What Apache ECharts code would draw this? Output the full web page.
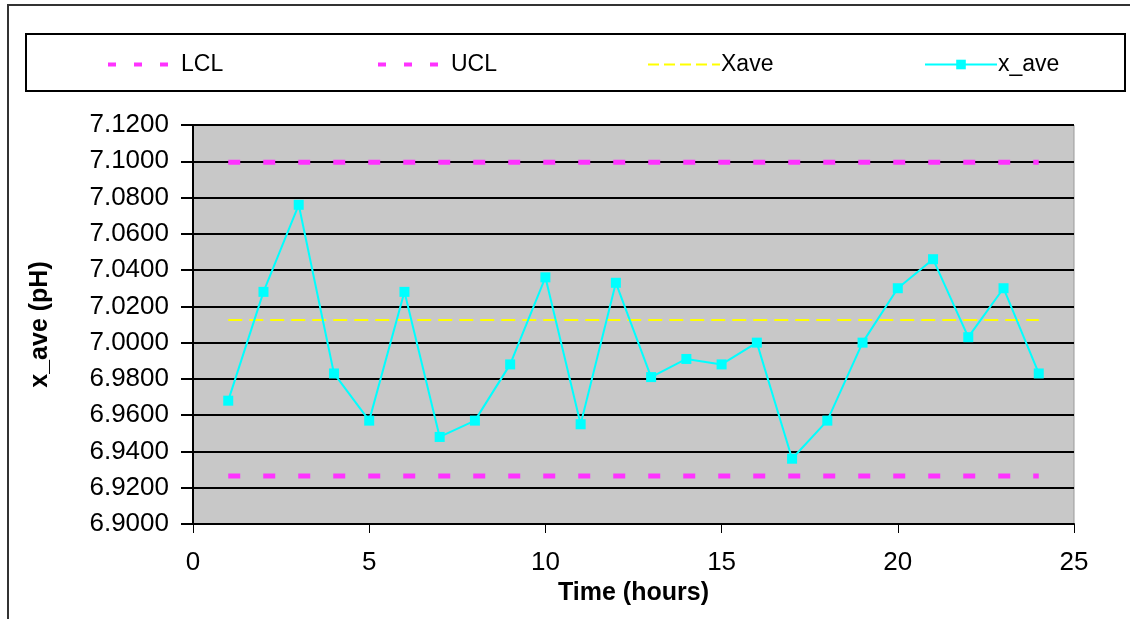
<!DOCTYPE html>
<html>
<head>
<meta charset="utf-8">
<script src="https://cdn.jsdelivr.net/npm/echarts@6/dist/echarts.min.js"></script>
<style>
html,body{margin:0;padding:0;background:#fff;}
#chart{width:1130px;height:619px;}
</style>
</head>
<body>
<div id="chart"></div>
<script>
// ---- data ----
const hours = [1,2,3,4,5,6,7,8,9,10,11,12,13,14,15,16,17,18,19,20,21,22,23,24];
const xAveValues = [6.968,7.028,7.076,6.983,6.957,7.028,6.948,6.957,6.988,7.036,6.955,7.033,
                    6.981,6.991,6.988,7.000,6.936,6.957,7.000,7.030,7.046,7.003,7.030,6.983];
const uclValue = 7.0995;
const lclValue = 6.9265;
const xaveValue = 7.0125;
const lineStartEnd = [1, 24];
const seriesNames = ['LCL', 'UCL', 'Xave', 'x_ave'];
const yMin = 6.9, yMax = 7.12, yStep = 0.02;
const xMin = 0, xMax = 25, xStep = 5;

const chart = echarts.init(document.getElementById('chart'));
const FONT = '"Liberation Sans", Arial, sans-serif';

function constLine(v){ return lineStartEnd.map(x => [x, v]); }

const legendLefts = [101, 371, 642, 919];
const legendLine = [
  {width: 4, type: [8, 18]},
  {width: 4, type: [8, 18]},
  {width: 2, type: [11, 5]},
  {width: 2, type: 'solid'}
];
const legends = seriesNames.map((n, i) => ({
  data: [n],
  left: legendLefts[i],
  top: 48,
  itemWidth: 72,
  itemHeight: 12,
  itemGap: 0,
  selectedMode: false,
  itemStyle: i < 3 ? {opacity: 0} : {},
  lineStyle: legendLine[i],
  textStyle: {fontFamily: FONT, fontSize: 23, color: '#000', padding: [0,0,0,-4]}
}));

chart.setOption({
  animation: false,
  backgroundColor: '#fff',
  textStyle: {fontFamily: FONT},
  graphic: [
    {type: 'polyline', shape: {points: [[8, 619], [8, 5], [1130, 5]]},
     style: {stroke: '#333', lineWidth: 2, fill: null}, z: 10},
    {type: 'rect', shape: {x: 26, y: 34, width: 1099, height: 57},
     style: {stroke: '#000', lineWidth: 2, fill: '#fff'}, z: -1}
  ],
  legend: legends,
  grid: {left: 193, right: 56, top: 125, bottom: 95,
         show: true, backgroundColor: '#c8c8c8', borderColor: '#9a9a9a', borderWidth: 1},
  xAxis: {
    type: 'value', min: xMin, max: xMax, interval: xStep,
    name: 'Time (hours)', nameLocation: 'middle', nameGap: 55,
    nameTextStyle: {fontFamily: FONT, fontSize: 25, fontWeight: 'bold', color: '#000'},
    axisLine: {show: true, onZero: false, lineStyle: {color: '#000', width: 2}},
    axisTick: {show: true, length: 9, lineStyle: {color: '#000', width: 1}},
    axisLabel: {fontFamily: FONT, fontSize: 26, color: '#000', margin: 26},
    splitLine: {show: false}
  },
  yAxis: {
    type: 'value', min: yMin, max: yMax, interval: yStep,
    name: 'x_ave (pH)', nameLocation: 'middle', nameGap: 140,
    nameTextStyle: {fontFamily: FONT, fontSize: 25, fontWeight: 'bold', color: '#000'},
    axisLine: {show: true, lineStyle: {color: '#000', width: 2}},
    axisTick: {show: true, length: 12, lineStyle: {color: '#000', width: 2}},
    axisLabel: {fontFamily: FONT, fontSize: 26, color: '#000', margin: 24,
                formatter: v => v.toFixed(4)},
    splitLine: {show: true, lineStyle: {color: '#000', width: 2}}
  },
  series: [
    {name: 'LCL', type: 'line', data: constLine(lclValue), symbol: 'none',
     itemStyle: {color: '#ff33ff'},
     lineStyle: {color: '#ff33ff', width: 5, type: [12, 23]}, z: 3},
    {name: 'UCL', type: 'line', data: constLine(uclValue), symbol: 'none',
     itemStyle: {color: '#ff33ff'},
     lineStyle: {color: '#ff33ff', width: 5, type: [12, 23]}, z: 3},
    {name: 'Xave', type: 'line', data: constLine(xaveValue), symbol: 'none',
     itemStyle: {color: '#ffff00'},
     lineStyle: {color: '#ffff00', width: 2, type: [14, 7]}, z: 3},
    {name: 'x_ave', type: 'line', data: hours.map((h, i) => [h, xAveValues[i]]),
     symbol: 'rect', symbolSize: 10,
     itemStyle: {color: '#00ffff'},
     lineStyle: {color: '#00ffff', width: 2}, z: 4}
  ]
});
</script>
</body>
</html>
